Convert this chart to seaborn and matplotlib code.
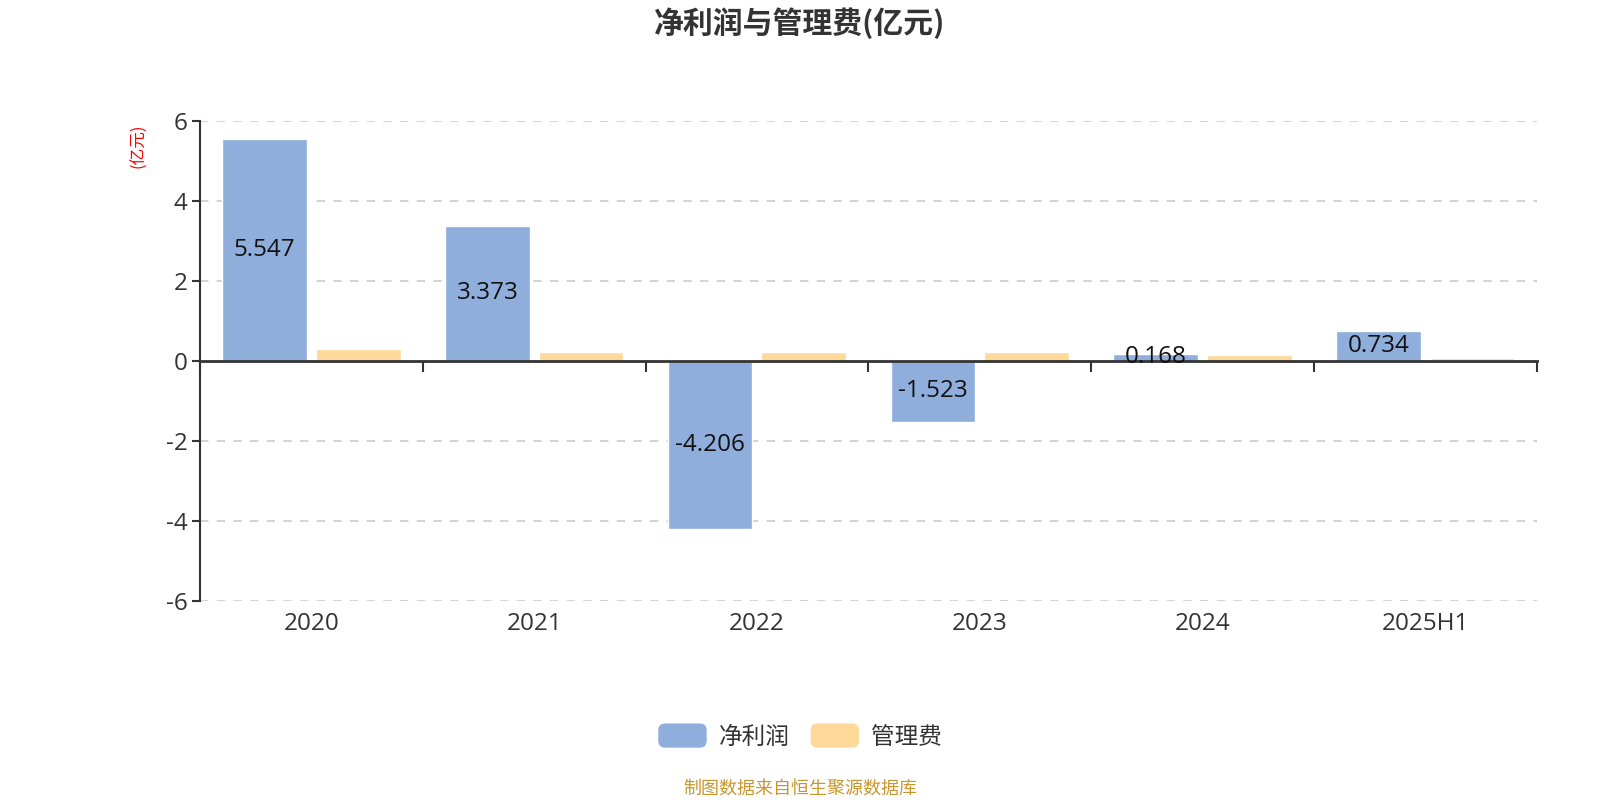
import matplotlib
matplotlib.use("Agg")
import matplotlib.pyplot as plt
import seaborn as sns
import pandas as pd
from matplotlib.patches import FancyBboxPatch, Patch
from matplotlib.legend_handler import HandlerPatch
from matplotlib.ticker import FixedLocator, NullFormatter

# ---- data ----
categories = ["2020", "2021", "2022", "2023", "2024", "2025H1"]
net_profit = [5.547, 3.373, -4.206, -1.523, 0.168, 0.734]
admin_fee = [0.29, 0.22, 0.22, 0.22, 0.15, 0.08]
series_names = ["净利润", "管理费"]
y_ticks = [-6, -4, -2, 0, 2, 4, 6]

colors = ["#8FAEDB", "#FFD999"]

sns.set_theme(style="white")
plt.rcParams['font.family'] = ['Noto Sans CJK SC', 'DejaVu Sans']
plt.rcParams['axes.unicode_minus'] = False
num_family = ['Open Sans', 'Noto Sans CJK SC', 'DejaVu Sans']
num_size = 17.5

df = pd.DataFrame({
    "cat": categories * 2,
    "value": net_profit + admin_fee,
    "series": [series_names[0]] * len(categories) + [series_names[1]] * len(categories),
})

fig = plt.figure(figsize=(16, 8), dpi=100)
ax = fig.add_axes([0.125, 0.249, 0.8354, 0.6])

sns.barplot(data=df, x="cat", y="value", hue="series", palette=colors,
            order=categories, hue_order=series_names, width=0.84, gap=0.095,
            saturation=1, legend=False, ax=ax, errorbar=None)

ax.set_xlim(-0.5, len(categories) - 0.5)
ax.set_ylim(-6, 6)
ax.set_yticks(y_ticks)
ax.set_yticklabels([str(t) for t in y_ticks])
ax.set_xlabel("")
ax.set_ylabel("")

# grid lines (excluding zero)
for t in y_ticks:
    if t != 0:
        ax.axhline(t, color="#CCCCCC", linewidth=1.2, linestyle=(0, (5, 5)), zorder=0)

# bar labels on net profit
cont = ax.containers[0]
lbls = ax.bar_label(cont, labels=[f"{v:.3f}" for v in net_profit], label_type="center",
                    fontsize=num_size, color="#111111")
for t in lbls:
    t.set_family(num_family)

# spines
for s in ["top", "right"]:
    ax.spines[s].set_visible(False)
ax.spines["left"].set_color("#333333")
ax.spines["left"].set_linewidth(1.5)
ax.spines["bottom"].set_position(("data", 0))
ax.spines["bottom"].set_color("#333333")
ax.spines["bottom"].set_linewidth(2)

ax.set_xticks(range(len(categories)))
ax.xaxis.set_major_formatter(NullFormatter())
ax.xaxis.set_minor_locator(FixedLocator([i - 0.5 for i in range(len(categories) + 1)]))
ax.tick_params(axis="x", which="major", length=0)
ax.tick_params(axis="x", which="minor", length=8, width=1.5, color="#333333", direction="out")
ax.tick_params(axis="y", which="major", length=6, width=1.5, color="#333333",
               labelsize=num_size, labelcolor="#333333", pad=3, left=True)
for t in ax.get_yticklabels():
    t.set_family(num_family)

# category labels at bottom via twin axis
ax2 = ax.twiny()
ax2.set_xlim(ax.get_xlim())
ax2.xaxis.set_ticks_position("bottom")
ax2.xaxis.set_label_position("bottom")
for s in ax2.spines.values():
    s.set_visible(False)
ax2.set_xticks(range(len(categories)))
ax2.set_xticklabels(categories)
ax2.tick_params(axis="x", length=0, labelsize=num_size, labelcolor="#333333", pad=8)
for t in ax2.get_xticklabels():
    t.set_family(num_family)

# y unit label
fig.text(0.087, 0.818, "(亿元)", rotation=90, color="red", fontsize=12,
         ha="center", va="center")

# title
fig.text(0.5, 0.971, "净利润与管理费(亿元)", ha="center", va="center",
         fontsize=21.5, fontweight="bold", color="#333333")

# legend with rounded handles
class RoundHandler(HandlerPatch):
    def create_artists(self, legend, orig_handle, xdescent, ydescent, width, height, fontsize, trans):
        p = FancyBboxPatch((-xdescent, -ydescent), width, height,
                           boxstyle="round,pad=0,rounding_size=5",
                           facecolor=orig_handle.get_facecolor(), edgecolor="none",
                           transform=trans)
        return [p]

handles = [Patch(facecolor=c) for c in colors]
leg = fig.legend(handles, series_names, loc="center", bbox_to_anchor=(0.5, 0.080),
                 ncol=2, frameon=False, fontsize=17, handlelength=2.05, handleheight=1.2,
                 handletextpad=0.5, columnspacing=0.9,
                 handler_map={Patch: RoundHandler()})
for t in leg.get_texts():
    t.set_color("#333333")

# source
fig.text(0.5, 0.014, "制图数据来自恒生聚源数据库", ha="center", va="center",
         fontsize=13, color="#C8962E")

fig.savefig("out.png", dpi=100)
